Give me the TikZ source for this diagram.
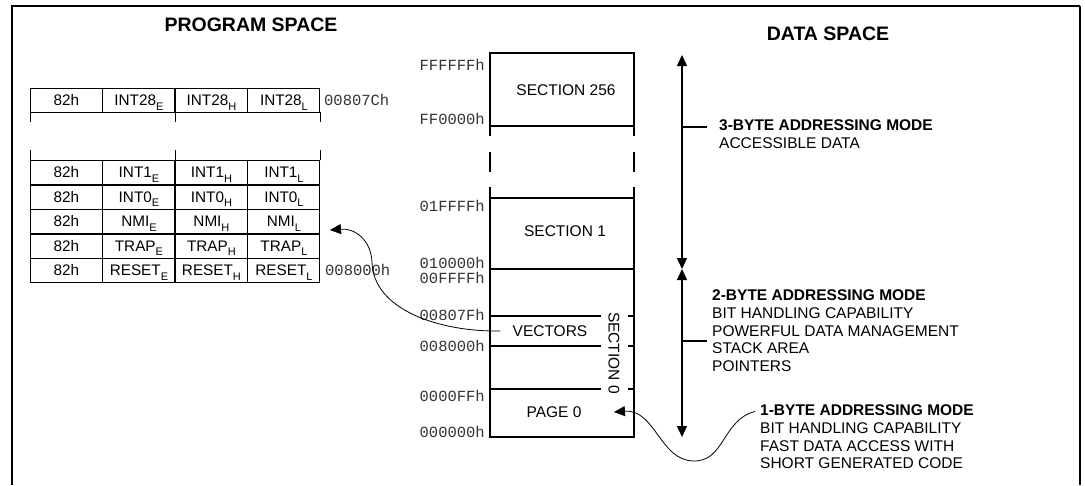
\documentclass[tikz,border=0pt]{standalone}
\usepackage{fontspec}
\setmainfont{Liberation Sans}
\setmonofont{Liberation Mono}
\usetikzlibrary{matrix,positioning,arrows.meta}

% small lowered index for the vector bytes
\newcommand\lo[1]{\raisebox{-0.28em}{\fontsize{11}{11}\selectfont #1}}

\tikzset{
vecmat/.style={
  matrix of nodes,
  nodes={draw, line width=0.9pt, minimum width=72pt, minimum height=24pt,
    inner sep=0pt, text height=10.9pt, text depth=0pt,
    font=\fontsize{15.3}{16}\selectfont},
  column sep=-\pgflinewidth,
  row sep=-\pgflinewidth,
  inner sep=0pt, outer sep=0pt
  }
}
\tikzset{
  lbl/.style={font=\fontsize{15.5}{17.8}\selectfont, inner sep=0pt},
  note/.style={lbl, align=left, anchor=north west},
  hdr/.style={font=\fontsize{19.5}{22}\selectfont\bfseries, inner sep=0pt},
  addr/.style={font=\ttfamily\fontsize{15.5}{16}\selectfont, text=black!80,
    inner sep=0pt, anchor=east},
  wall/.style={line width=1.3pt},
  pointer/.style={line width=0.8pt, ->}
}

\begin{document}
\begin{tikzpicture}[x=1pt, y=-1pt, >={Triangle[length=11pt,width=10pt]}]
\useasboundingbox (0,0) rectangle (1085,485);

% frame
\draw[line width=2pt] (12,485) -- (12,6) -- (1080,6);
\draw[wall] (1080,6) -- (1080,485);

\node[hdr] (prog) at (251,25) {PROGRAM SPACE};
\node[hdr] (data) at (828,34) {DATA SPACE};

% interrupt vector table
\matrix[vecmat, anchor=north west] at (30,88) (mat28)
{
  82h & INT28\lo{E} & INT28\lo{H} & INT28\lo{L} \\
};
\matrix[vecmat, anchor=north west] at (30,160) (mat1)
{
  82h & INT1\lo{E}  & INT1\lo{H}  & INT1\lo{L}  \\
  82h & INT0\lo{E}  & INT0\lo{H}  & INT0\lo{L}  \\
  82h & NMI\lo{E}   & NMI\lo{H}   & NMI\lo{L}   \\
  82h & TRAP\lo{E}  & TRAP\lo{H}  & TRAP\lo{L}  \\
  82h & RESET\lo{E} & RESET\lo{H} & RESET\lo{L} \\
};

\draw[line width=0.9pt]
  (mat28-1-1.south west) -- ++(0,10)
  (mat28-1-3.south west) -- ++(0,10)
  (mat28-1-4.south east) -- ++(0,10)
  (mat1-1-1.north west) -- ++(0,-10)
  (mat1-1-3.north west) -- ++(0,-10)
  (mat1-1-4.north east) -- ++(0,-10);

\node[addr, anchor=west, right=4pt of mat28-1-4] (v28) {00807Ch};
\node[addr, anchor=west, right=5pt of mat1-5-4] (v0) {008000h};

% data space column
\draw[wall] (490,136) -- (490,53) -- (634,53) -- (634,136);
\draw[wall] (490,126) -- (634,126);
\draw[wall] (490,152) -- (490,172) (634,152) -- (634,172);
\draw[wall] (490,187) -- (490,437) -- (634,437) -- (634,187);
\draw[wall] (490,198) -- (634,198) (490,269) -- (634,269);
\foreach \y in {316,346,389}
  \draw[wall] (490,\y) -- (601,\y) (628,\y) -- (634,\y);

\node[lbl] (s256) at (566,90) {SECTION 256};
\node[lbl] (s1) at (565,231) {SECTION 1};
\node[lbl] (vec) at (550,331) {VECTORS};
\node[lbl] (page0) at (554,412) {PAGE 0};
\node[lbl, rotate=-90] (s0) at (614,353) {SECTION 0};

\foreach \y/\a in {65/FFFFFFh, 119/FF0000h, 206/01FFFFh, 263/010000h,
                   278/00FFFFh, 315/00807Fh, 346/008000h, 396/0000FFh,
                   432/000000h}
  \node[addr] at (485,\y) {\a};

% addressing ranges
\coordinate (top) at (682,55);
\coordinate (sep) at (682,269);
\coordinate (bot) at (682,437);
\draw[wall,<->] (top) -- (sep);
\draw[wall,<->] (sep) -- (bot);
\draw[wall] (682,127) -- (707,127);
\draw[wall] (682,341) -- (707,341);

\node[note] (m3) at (719,119.5)
  {\textbf{3-BYTE ADDRESSING MODE}\\ACCESSIBLE DATA};
\node[note] (m2) at (712,289.5)
  {\textbf{2-BYTE ADDRESSING MODE}\\BIT HANDLING CAPABILITY\\
   POWERFUL DATA MANAGEMENT\\STACK AREA\\POINTERS};
\node[note] (m1) at (760,404.5)
  {\textbf{1-BYTE ADDRESSING MODE}\\BIT HANDLING CAPABILITY\\
   FAST DATA ACCESS WITH\\SHORT GENERATED CODE};

% pointers
\coordinate (nmitip) at (330,230);
\coordinate (p0tip) at (614,412);
\draw[pointer] ([xshift=-12pt]vec.west) .. controls (440,332) and (373,310) .. (372,262)
  .. controls (371,240) and (355,228) .. (nmitip);
\draw[pointer] ([shift={(-5,7)}]m1.north west) .. controls (722,420) and (725,462) .. (693,461)
  .. controls (660,460) and (655,409) .. (p0tip);
\end{tikzpicture}
\end{document}
